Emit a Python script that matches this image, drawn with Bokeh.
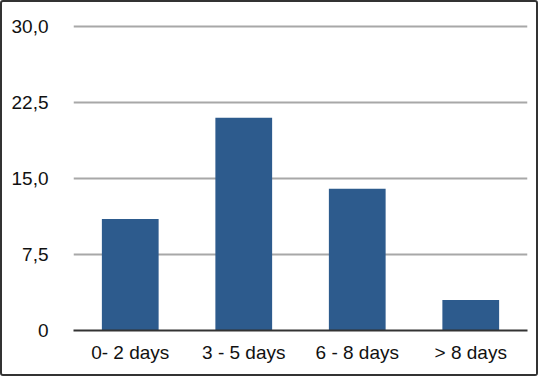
from bokeh.plotting import figure
from bokeh.models import FixedTicker, Range1d
from bokeh.embed import file_html
from bokeh.resources import INLINE

categories = ["0- 2 days", "3 - 5 days", "6 - 8 days", "> 8 days"]
values = [11, 21, 14, 3]
y_ticks = [0, 7.5, 15, 22.5, 30]
y_tick_labels = ["0", "7,5", "15,0", "22,5", "30,0"]

FONT = "Liberation Sans"

p = figure(x_range=categories, y_range=Range1d(0, 30.3), width=538, height=376,
           output_backend="svg", toolbar_location=None,
           min_border_left=71, min_border_right=13, min_border_top=21, min_border_bottom=48)

p.vbar(x=categories, top=values, width=0.5, color="#2D5B8D", line_color=None)

p.outline_line_color = None
p.xgrid.grid_line_color = None
p.ygrid.grid_line_color = "#A8A8A8"
p.ygrid.grid_line_width = 2
p.ygrid.ticker = FixedTicker(ticks=y_ticks)

p.yaxis.ticker = FixedTicker(ticks=y_ticks)
p.yaxis.major_label_overrides = {t: l for t, l in zip(y_ticks, y_tick_labels)}
p.yaxis.axis_line_color = None
p.yaxis.major_tick_line_color = None
p.yaxis.minor_tick_line_color = None
p.yaxis.major_label_standoff = 19
p.yaxis.major_label_text_font = FONT
p.yaxis.major_label_text_font_size = "19px"
p.yaxis.major_label_text_color = "#111111"

p.xaxis.axis_line_color = "#333333"
p.xaxis.axis_line_width = 2
p.xaxis.major_tick_line_color = None
p.xaxis.minor_tick_line_color = None
p.xaxis.major_label_standoff = 5
p.xaxis.major_label_text_font = FONT
p.xaxis.major_label_text_font_size = "19px"
p.xaxis.major_label_text_color = "#111111"

p.styles = {"border": "2px solid #333333", "border-radius": "3px", "box-sizing": "border-box"}

open("out.html", "w").write(file_html(p, INLINE))
